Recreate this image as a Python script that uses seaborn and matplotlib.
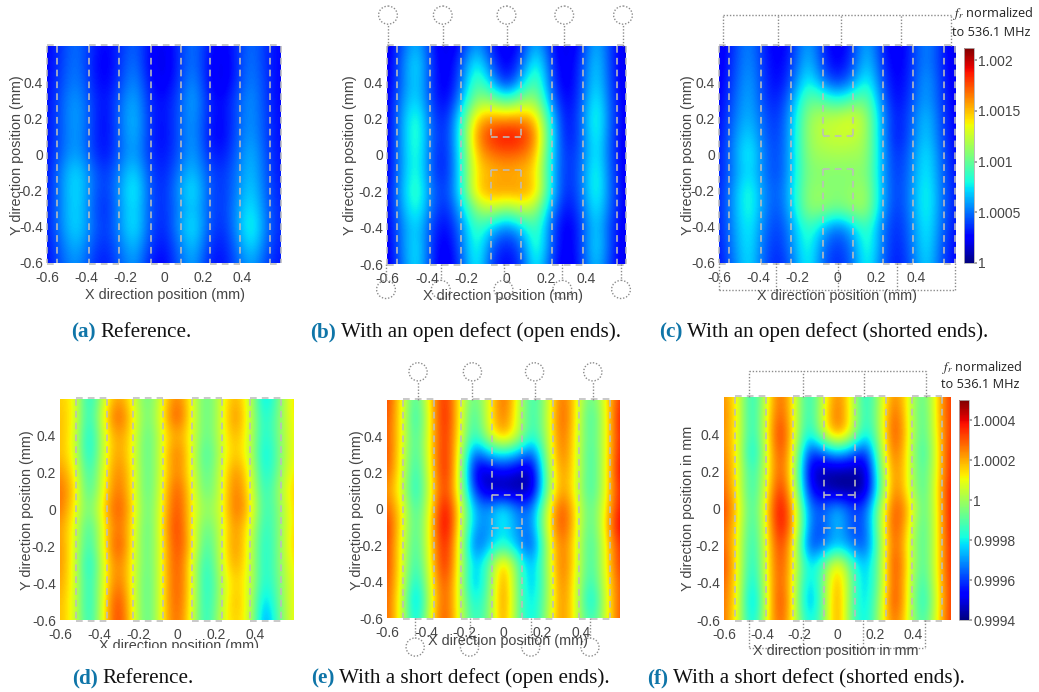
# fr maps of the resonator array, six panels drawn with seaborn heatmaps
import numpy as np
import matplotlib
matplotlib.use("Agg")
import matplotlib.pyplot as plt
from matplotlib.patches import Ellipse
from matplotlib.transforms import Bbox
import seaborn as sns

# scan grid in mm
x_mm = [-.6, -.525, -.45, -.375, -.3, -.225, -.15, -.075, 0, .075, .15, .225, .3, .375, .45, .525, .6]
y_mm = [.6, .5, .4, .3, .2, .1, 0, -.1, -.2, -.3, -.4, -.5, -.6]

# values are (fr_norm - 1) * 1e4, top row is y = 0.6
panel_a = [
    [2.6, 3.8, 5.2, 3.6, 2.4, 3.6, 5, 2.8, 1.9, 3.6, 5.4, 3.2, 2.1, 3.6, 5.2, 3.6, 2.6],
    [2.5, 4.0, 5.4, 3.4, 2.1, 3.8, 5.4, 2.6, 1.6, 3.6, 5.4, 3.0, 1.8, 3.6, 5.4, 3.6, 2.5],
    [2.7, 4.2, 5.6, 3.6, 2.3, 4, 6, 3, 2.0, 3.8, 6, 3.0, 1.7, 3.8, 5.6, 3.8, 2.5],
    [2.7, 4.6, 6.2, 4, 2.7, 4.8, 6.6, 3.4, 2.7, 4.2, 6.6, 3.4, 2.5, 4.4, 6, 3.8, 2.5],
    [2.9, 4.6, 6.4, 4.2, 2.4, 5, 7, 3.6, 2.7, 4.4, 6.2, 3.4, 2.4, 4.4, 6, 4, 2.7],
    [2.9, 4.6, 6.2, 4, 2.5, 4.8, 6.8, 3.6, 2.5, 4.4, 6.2, 3.2, 2.3, 4.6, 6.2, 4, 2.7],
    [2.9, 4.8, 6.4, 4.2, 2.7, 4.8, 6.4, 3.6, 2.9, 4.4, 6.4, 3.6, 2.9, 4.8, 6.8, 4.2, 2.9],
    [2.9, 5.6, 7.6, 5.2, 3.5, 5.6, 7.6, 4.2, 3.1, 5.2, 7, 4.4, 3.5, 5.2, 7, 4.4, 2.9],
    [3.1, 5.6, 7.8, 5.2, 3.5, 6, 8.4, 4.4, 3.3, 5.8, 8, 4.6, 3.5, 5.4, 7.4, 4.6, 3.1],
    [3.1, 5.6, 7.6, 5, 3.1, 5.8, 7.8, 4.4, 3.3, 5.4, 7.2, 4.6, 3.5, 5.8, 8, 4.8, 3.3],
    [3.1, 5.6, 7.6, 5.2, 3.5, 5.8, 8, 4.4, 3.1, 5.8, 8, 4.6, 3.3, 5.8, 8.8, 5, 3.3],
    [2.9, 5, 6.8, 4.6, 3.3, 5.2, 7, 4, 2.8, 5, 7.2, 4, 2.9, 5.2, 7.8, 4.6, 3.1],
    [2.7, 4.6, 6, 4, 2.9, 4.6, 6.2, 3.2, 2.3, 4.6, 6.4, 3.4, 2.7, 4.6, 6.4, 4, 2.9],
]
panel_b = [
    [1.8, 4.4, 7, 3.2, 1.6, 3.2, 6.4, 3.2, 1.8, 3.2, 7, 3.2, 1.6, 3.2, 7, 3.8, 1.6],
    [1.9, 5, 8, 3.6, 1.8, 4.4, 8.6, 4.4, 2, 4.4, 9, 3.8, 1.8, 3.8, 7.6, 3.8, 1.8],
    [2, 5, 7.6, 3.6, 1.8, 5, 10, 6.6, 2.8, 6.6, 10.2, 4.2, 1.8, 4, 7.8, 4, 1.8],
    [2.1, 5.6, 7.8, 3.8, 2.2, 6.2, 11.4, 11, 9, 11, 11.6, 5.4, 2.2, 4.2, 8.6, 4.2, 2],
    [2.2, 6, 9.2, 4.2, 3, 8.4, 15, 16, 16, 16.2, 15, 7.2, 2.4, 4.6, 9.2, 4.4, 2.2],
    [2.2, 6, 9.4, 4.4, 3.2, 8.8, 16.2, 18.6, 19.4, 18.8, 16.4, 7.6, 2.6, 4.4, 8.8, 4.2, 2],
    [2.2, 6, 9, 4.2, 3, 8.4, 15, 16.6, 17, 16.8, 15.2, 7.2, 3.2, 4.6, 8.4, 4.2, 2],
    [2.2, 6, 9, 4.2, 3, 8.2, 14.4, 15, 15.4, 15, 14.4, 7, 3.2, 4.8, 9, 4.4, 2],
    [2.4, 6.4, 9.6, 4.8, 3.6, 8.2, 14.8, 16, 16, 16, 15, 7.2, 3, 4.8, 9, 4.6, 2.2],
    [2.4, 6, 8.8, 4.6, 3, 6.8, 11, 12.4, 10.6, 12.4, 11.4, 5.8, 2.4, 4.4, 8.2, 4.4, 2.2],
    [2.2, 5.4, 7.6, 3.8, 2.4, 5.4, 9.4, 6.8, 5, 6.8, 9.6, 4.6, 1.8, 3.8, 7.6, 3.8, 2],
    [2, 5.4, 8, 3.6, 1.8, 5, 9, 4.6, 3, 4.6, 9.6, 4.6, 1.8, 3.8, 8, 4, 1.8],
    [1.8, 5, 8, 3.4, 1.6, 4.4, 8.6, 3.8, 2.4, 3.8, 8.6, 3.8, 1.6, 3.6, 7.4, 3.6, 1.6],
]
panel_c = [
    [1.8, 3.8, 5.8, 3.4, 2, 3.6, 6.6, 3.6, 1.8, 3.6, 6.8, 3.4, 1.8, 3.6, 5.8, 3.6, 1.6],
    [2, 4, 6, 3.6, 2.2, 4, 7.2, 4, 2.2, 4, 7.4, 3.8, 2, 3.6, 5.8, 3.6, 1.8],
    [2.2, 4.2, 6.4, 3.8, 2.4, 4.8, 8.4, 5.4, 3.6, 5.4, 8.6, 4.4, 2.2, 3.8, 6.4, 3.8, 2],
    [2.4, 4.6, 6.6, 4, 3, 6, 10.2, 9.6, 8.2, 9.6, 10.4, 5.2, 2.4, 4.2, 6.4, 4, 2.2],
    [2.6, 5, 6.8, 4.6, 3.4, 6.8, 11.4, 12.2, 12.6, 13.4, 11.6, 6, 2.8, 4.6, 7.2, 4.2, 2.4],
    [2.8, 5.4, 7.6, 4.8, 3.6, 7, 11.4, 12.4, 12.6, 12.6, 11.6, 6, 2.6, 4.8, 7.4, 4.4, 2.4],
    [3, 5.6, 8.4, 5.2, 3.8, 7, 11.2, 11.6, 11.8, 11.6, 11.4, 6.2, 3.2, 5.2, 8, 4.8, 2.6],
    [3, 5.4, 7.8, 5.2, 3.8, 7, 10.8, 10.8, 10.8, 10.8, 11, 6.2, 3.4, 5.4, 8.2, 5, 2.8],
    [3.2, 6, 8.8, 5.6, 4.2, 7.4, 11.2, 11.2, 10.8, 11.2, 11.6, 6.4, 3.6, 5.6, 8.6, 5.2, 3],
    [3.2, 6, 8.8, 5.6, 4, 7.2, 11.2, 11.2, 10.2, 11.4, 11.6, 6.2, 3.4, 5.6, 8.6, 5.2, 3],
    [3.2, 5.8, 8.2, 5.2, 3.6, 6.2, 9.2, 6.8, 4.8, 6.8, 9.4, 5.2, 3.2, 5.2, 8.2, 5, 2.8],
    [3, 5.6, 8, 4.8, 3.4, 5.8, 8.8, 5.2, 3.6, 5.2, 9.2, 5.2, 3, 5, 8, 4.6, 2.6],
    [2.8, 5.2, 7.8, 4.6, 3, 5.2, 8.4, 4.8, 3.2, 4.8, 8.6, 4.8, 2.8, 4.6, 7.6, 4.4, 2.4],
]
panel_d = [
    [1.6, 1.2, -2.4, .6, 2.4, .9, -1.2, 1.0, 2.8, 1, -1.2, .6, 2.2, .6, -2.8, -.6, 1.6],
    [1.8, 1.2, -2.2, 1.2, 3.4, 1.2, -1.0, 1.2, 3.6, 1, -1.2, .6, 2.8, .6, -2.2, -.4, 1.4],
    [1.9, 1, -2.6, .8, 2.4, 1.2, -1.4, 1, 2.2, 1, -1.2, .6, 2.2, .6, -2.2, -.4, 1.2],
    [1.8, 1, -2.6, .8, 2.4, 1, -1.4, 1, 3.0, 1, -1.8, .5, 1.9, .6, -2.6, -.6, 1.2],
    [2.4, 1.3, -2, 1, 2.8, 1.2, -1.4, 1, 2.8, 1, -1.4, .6, 2.7, 1, -2.4, -.4, 1.4],
    [2.8, 1.7, -1.8, 1.2, 3, 1.2, -1.4, 1.1, 3.4, 1.2, -1.2, .6, 3.0, 1.2, -2, 0, 1.8],
    [2.8, 1.2, -1, 1.6, 3.4, 1.4, -1.2, 1.2, 3.6, 1.2, -.4, .6, 3.1, 1.6, -1.8, -.4, 1.6],
    [2.2, 1, -1.8, 1.2, 3, 1.2, -1.4, 1.4, 3.8, 1.2, -1.2, .5, 2.6, .9, -2, -.4, 1.6],
    [2.4, .9, -2, 1.2, 3.6, 1, -1.3, 1.2, 3.6, 1.6, -1.8, .6, 2.7, .7, -2.2, -.4, 1.8],
    [2.4, .9, -2.6, 1, 2.8, 1, -1.3, 1.2, 3.5, 1, -2.2, .5, 2.4, .7, -2.2, -.4, 1.4],
    [2.2, .9, -2.2, 1, 3, .9, -1.4, 1.2, 3.4, 1.2, -2.4, .2, 1.8, .7, -2.2, -.6, 1.2],
    [1.9, .9, -2.4, 1.2, 3.7, .9, -1.4, 1.2, 3.4, 1, -2.2, .2, 2.2, .6, -3, -.6, 1.2],
    [1.9, .9, -2.2, 1.2, 3.8, 1, -1.4, 1.2, 3.2, .9, -2.2, .6, 1.8, .7, -3.6, -.8, 1.2],
]
panel_e = [
    [3.4, 1.2, -1.8, 1.6, 4, 1.1, -1.2, .8, 3.2, .8, -1.8, .2, 3.2, 1.2, -1.3, 1, 3.6],
    [3.2, 1.2, -2.2, 1.4, 4.2, 1.1, -1.8, 1, 3, .6, -1.8, .3, 3.4, 1.2, -1.8, .8, 4],
    [3.1, 1.2, -1.8, 1.4, 4, 1, -2, .6, 2.2, .6, -2, .2, 3.2, 1, -1.6, .8, 3.8],
    [3.3, 1, -1.8, 1.4, 4.1, .8, -4.2, -2.6, -2.2, -2.8, -4.2, 0, 3, 1, -1.8, .8, 4],
    [3, 1, -2.2, 1.2, 4.2, .6, -5.2, -5.4, -4.8, -5.4, -5.6, -.4, 2.6, 1, -1.8, .8, 4.2],
    [2.4, .8, -2.4, 1, 3.8, .6, -4.2, -5.4, -5.7, -5.7, -5.5, -.5, 2.6, .8, -1.8, .8, 3.8],
    [3, 1.4, -1.8, 1.2, 4.6, 1.2, -2.8, -3, -1.6, -3.4, -3.4, .6, 3.6, 1.2, -1.4, 1.2, 4],
    [3.6, 1.2, -1.6, 1.4, 4.8, 1, -3, -3.2, -1.8, -3.2, -3.4, .8, 3.6, 1.2, -1.6, 1.4, 4.4],
    [3.4, 1, -1.8, 1.4, 4.2, .8, -4, -2.6, -1.6, -2.8, -4.2, .2, 3, 1, -1.8, 1, 3.6],
    [3.4, 1, -2, 1.2, 4.2, .6, -2.8, -1, 2.4, -1, -3, 0, 3.2, 1, -1.8, 1, 3.6],
    [3.2, 1, -2.6, 1, 3.6, .6, -3.2, -.8, 2.8, -.8, -3, -.2, 3, .8, -2, .8, 3.2],
    [3, .8, -3.4, .8, 3.4, .6, -2.4, -.6, 3, -.8, -2.6, -.2, 2.8, .8, -2.8, .6, 3.2],
    [3, .8, -2.8, 1, 3.6, .6, -1.8, -.6, 2.8, -.8, -2.4, 0, 2.8, .8, -2, .6, 3.2],
]
panel_f = [
    [2.4, 1, -2.2, .8, 3.2, .8, -2, .6, 2.8, .8, -2.2, .2, 2.8, 1, -1.4, 1.4, 3.6],
    [2.6, 1, -2.2, 1, 3.4, .8, -2, .8, 3.2, .8, -2, .2, 3.4, 1, -1.6, 1.4, 3.6],
    [2.4, 1, -2.2, 1, 4, .8, -2.4, .6, 2.6, .8, -2.4, .1, 3.6, 1.2, -1.6, 1.2, 3.6],
    [2.6, 1, -2.8, .8, 3.6, .6, -4.4, -3.6, -2.6, -3.4, -4.6, -.2, 3.2, 1, -2, 1, 3.8],
    [2.8, 1, -2, .8, 3.4, .4, -5.2, -5.6, -5.7, -5.7, -5.6, -.8, 2.8, 1, -1.6, 1, 3.8],
    [3, 1, -2, 1, 4, .6, -4.6, -5.4, -5.9, -5.9, -5.6, -1.2, 3, 1, -1.6, 1.2, 4],
    [3.4, 1.4, -1.8, 1.4, 4.6, 1.4, -3.4, -3.6, -2.4, -3.8, -3.8, 0, 3.4, 2, -1.4, 1, 4],
    [3, 1.2, -2, 1.2, 4.4, 1.6, -3.4, -4, -2.2, -4, -3.8, 0, 3.6, 1.4, -1.6, 1, 4],
    [3, 1, -2.2, 1, 3.8, .8, -4.2, -3.4, -2.6, -3.2, -4, -.4, 3.4, 1, -1.6, 1, 3.8],
    [3.4, 1, -2.4, 1, 3.6, .8, -2.4, -1, 1.8, -1.2, -2.8, -.4, 3.8, 1.2, -1.6, 1, 3.8],
    [3, 1, -2.8, 1, 3.4, .6, -2.8, -.6, 2.6, -.8, -2.8, -.4, 3.6, 1, -2, 1, 3.6],
    [2.8, 1, -3.4, .8, 3.8, .6, -3.4, -.6, 2.8, -1, -2.6, 0, 3.8, 1, -2.4, .8, 3.6],
    [2.8, .8, -2.8, 1, 3.4, .6, -2.4, -.6, 2.8, -1, -2.4, .2, 3.2, .8, -1.8, 1, 3.6],
]

# color ranges, same units
open_range = (0, 21.2)
short_range = (-6, 5)

x_ticks = [-.6, -.4, -.2, 0, .2, .4]
x_labels = ["-0.6", "-0.4", "-0.2", "0", "0.2", "0.4"]
y_ticks = [.4, .2, 0, -.2, -.4, -.6]
y_labels = ["0.4", "0.2", "0", "-0.2", "-0.4", "-0.6"]
cbar_open_ticks = [0, 5, 10, 15, 20]
cbar_open_labels = ["1", "1.0005", "1.001", "1.0015", "1.002"]
cbar_short_ticks = [-6, -4, -2, 0, 2, 4]
cbar_short_labels = ["0.9994", "0.9996", "0.9998", "1", "1.0002", "1.0004"]

# electrode edges traced on top of each map (mm)
edges_a = [-.549, -.385, -.23, -.067, .087, .236, .39, .544]
edges_b = [-.55, -.384, -.228, -.078, .073, .228, .384, .555]
edges_c = [-.549, -.386, -.234, -.071, .081, .234, .386, .544]
edges_d = [-.518, -.359, -.226, -.072, .077, .231, .374, .533]
edges_e = [-.518, -.358, -.219, -.059, .095, .255, .389, .548]
edges_f = [-.542, -.378, -.235, -.071, .092, .256, .394, .552]

W, H = 1039, 692
DASH = "#bdbdbd"
DOT = "#8c8c8c"
INK = "#454545"

sns.set_theme(style="white")
plt.rcParams["font.family"] = ["Liberation Sans", "DejaVu Sans"]
plt.rcParams["mathtext.fontset"] = "stix"
fig = plt.figure(figsize=(W / 100, H / 100), dpi=100, facecolor="white")


def box(l, t, r, b):
    return [l / W, 1 - b / H, (r - l) / W, (b - t) / H]


# heatmap cells are centered on the scan points, so offset by half a cell
def gx(x):
    return (np.asarray(x) + .6) / .075 + .5


def gy(y):
    return (.6 - np.asarray(y)) / .1 + .5


def draw_map(values, rng, pos, cbar_pos=None, cticks=None, clabels=None):
    ax = fig.add_axes(box(*pos))
    opts = {}
    if cbar_pos:
        opts = dict(cbar_ax=fig.add_axes(box(*cbar_pos)), cbar_kws={"ticks": cticks})
    data = np.array(values)
    sns.heatmap(data, ax=ax, cmap="jet", vmin=rng[0], vmax=rng[1],
                cbar=bool(cbar_pos), xticklabels=False, yticklabels=False, **opts)
    # smooth shading on top of the cells, the way the scan maps look
    ax.imshow(data, cmap="jet", vmin=rng[0], vmax=rng[1], interpolation="bicubic", aspect="auto",
              extent=(0, len(x_mm), len(y_mm), 0), zorder=2)
    ax.set_xlim(.5, len(x_mm) - .5)
    ax.set_ylim(len(y_mm) - .5, .5)
    ax.set_xticks(gx(x_ticks), x_labels)
    ax.set_yticks(gy(y_ticks), y_labels)
    ax.tick_params(length=0, labelsize=10, labelcolor=INK, pad=3)
    ax.tick_params(axis="x", pad=6)
    if cbar_pos:
        cax = ax.collections[0].colorbar
        cax.set_ticklabels(clabels)
        cax.ax.tick_params(length=2, labelsize=10, labelcolor=INK, pad=1, color="#999999")
        cax.outline.set_edgecolor("#b0b0b0")
        cax.outline.set_linewidth(.6)
    return ax


def dashes(ax, xs, ys):
    ax.plot(gx(xs), gy(ys), color=DASH, lw=1.15, ls=(0, (4.2, 3.2)), clip_on=False, zorder=5)


def dots(ax, xs, ys):
    ax.plot(gx(xs), gy(ys), color=DOT, lw=1.0, ls=(0, (1, 1.3)), clip_on=False, zorder=5)


def electrodes(ax, edges, outer=True, gap=None, closed=None):
    outline = ([-.6] + edges + [.6]) if outer else edges
    for x in outline:
        if gap and x in edges[3:5]:
            dashes(ax, [x, x], [.6, gap[0]])
            dashes(ax, [x, x], [gap[1], -.6])
        else:
            dashes(ax, [x, x], [.6, -.6])
    for i in range(0, len(outline) - 1, 2):
        dashes(ax, outline[i:i + 2], [.607, .607])
        dashes(ax, outline[i:i + 2], [-.607, -.607])
    for y in (gap or closed or []):
        dashes(ax, edges[3:5], [y, y])


def stubs(ax, xs, y0, y1):
    for x in xs:
        dots(ax, [x, x], [y0, y1])


def rings(ax, xs, y, y_start):
    # open ended lines: a dotted ring on a short stem
    r = .047
    for x in xs:
        ring = Ellipse((gx(x), gy(y)), 2 * r / .075, 2 * .05 / .1, fill=False, edgecolor=DOT,
                       lw=1.0, ls=(0, (1, 1.3)), clip_on=False, zorder=5)
        ax.add_patch(ring)
        dots(ax, [x, x], [y_start, y - .05 if y > 0 else y + .05])


def label(x, y, text, rotation=0, clip=None):
    t = fig.text(x / W, 1 - y / H, text, ha="center", va="center", rotation=rotation,
                 fontsize=10.4, color=INK, zorder=6)
    if clip:
        t.set_clip_box(Bbox([[0, H - clip], [W, H]]))
        t.set_clip_on(True)


def caption(x, y, tag, text):
    t = fig.text(x / W, 1 - y / H, tag, fontsize=15.2, fontweight="bold", color="#0f75a8",
                 family="Liberation Serif", va="baseline")
    end = t.get_window_extent(fig.canvas.get_renderer()).x1
    fig.text((end + 5) / W, 1 - y / H, text, fontsize=15.2, color="#111111",
             family="Liberation Serif", va="baseline")


# top row, normalized to the open defect scale
ax_a = draw_map(panel_a, open_range, (47, 46, 281, 263))
electrodes(ax_a, edges_a)
ax_b = draw_map(panel_b, open_range, (387, 46, 626, 264))
electrodes(ax_b, edges_b, gap=(.1, -.08))
rings(ax_b, [-.595, -.32, 0, .29, .585], .77, .6)
rings(ax_b, [-.605, -.33, -.015, .28, .575], -.74, -.6)
ax_c = draw_map(panel_c, open_range, (719, 46, 955, 263), (964, 48, 974, 263),
                cbar_open_ticks, cbar_open_labels)
electrodes(ax_c, edges_c, gap=(.1, -.08))
dots(ax_c, [-.58, .58], [.77, .77])
stubs(ax_c, [-.58, -.3, .02, .325, .58], .6, .77)
dots(ax_c, [-.6, .6], [-.75, -.75])
stubs(ax_c, [-.6, -.31, .005, .305, .6], -.6, -.75)

# bottom row, short defect scale
ax_d = draw_map(panel_d, short_range, (60, 399, 294, 620))
electrodes(ax_d, edges_d, outer=False)
ax_e = draw_map(panel_e, short_range, (387, 400, 620, 618))
electrodes(ax_e, edges_e, outer=False, closed=(.077, -.104))
rings(ax_e, [-.44, -.16, .16, .46], .755, .6)
rings(ax_e, [-.455, -.175, .14, .445], -.76, -.6)
ax_f = draw_map(panel_f, short_range, (724, 397, 951, 620), (959, 400, 969, 620),
                cbar_short_ticks, cbar_short_labels)
electrodes(ax_f, edges_f, outer=False, closed=(.073, -.105))
dots(ax_f, [-.47, .47], [.74, .74])
stubs(ax_f, [-.47, -.185, .14, .47], .6, .74)
dots(ax_f, [-.47, .465], [-.75, -.75])
stubs(ax_f, [-.47, -.185, .135, .465], -.6, -.75)

# axis labels
xl = "X direction position (mm)"
yl = "Y direction position (mm)"
label(165, 295, xl)
label(503, 296, xl)
label(837, 296, xl)
label(179, 646, xl, clip=648)
label(508, 641, xl)
label(836, 651, "X direction position in mm")
label(17, 155, yl, 90)
label(350, 155, yl, 90)
label(688, 155, yl, 90)
label(27, 510, yl, 90)
label(357, 510, yl, 90)
label(688, 508, "Y direction position in mm", 90)

# colorbar headers
for hx, hy in ((953, 14), (942, 367)):
    fig.text(hx / W, 1 - hy / H, r"$f_r$ normalized", fontsize=9.2, color="#222222",
             family="Open Sans", va="center")
    fig.text((hx - 1) / W, 1 - (hy + 18) / H, "to 536.1 MHz", fontsize=9.2, color="#222222",
             family="Open Sans", va="center")

caption(71, 337, "(a)", "Reference.")
caption(310, 337, "(b)", "With an open defect (open ends).")
caption(659, 337, "(c)", "With an open defect (shorted ends).")
caption(72, 683, "(d)", "Reference.")
caption(311, 683, "(e)", "With a short defect (open ends).")
caption(647, 683, "(f)", "With a short defect (shorted ends).")

fig.savefig("out.png", dpi=100)
